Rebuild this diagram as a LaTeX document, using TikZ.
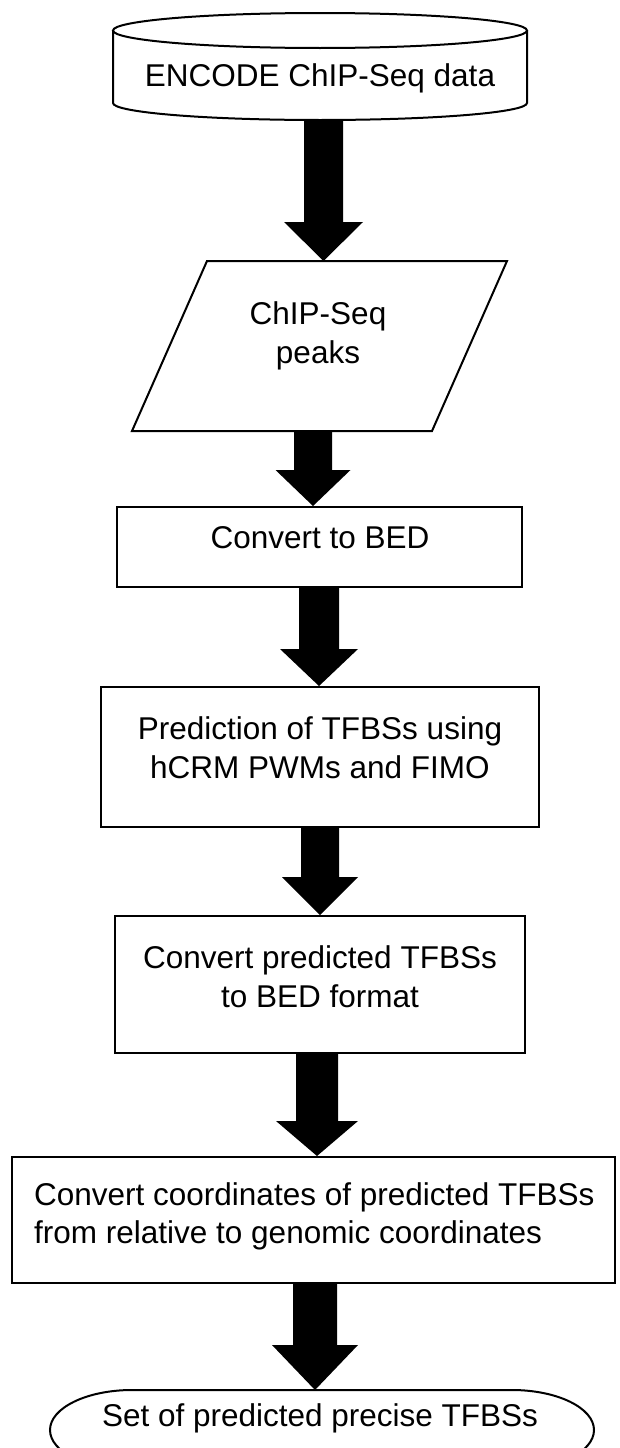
\documentclass[tikz,border=0pt]{standalone}
\usepackage{fontspec}
\setmainfont{Liberation Sans}
\usetikzlibrary{calc}
\tikzset{
  outline/.style={draw=black, line width=2pt},
  hold/.style={inner sep=0pt, outer sep=0pt, draw=none},
  lbl/.style={font=\fontsize{31.5}{38.5}\selectfont, align=center, inner sep=0pt, text=black},
  arrowfill/.style={fill=black},
}
% #1 from, #2 to, #3 x centre, #4 half shaft, #5 half head, #6 head length
\newcommand\blockarrow[6]{%
  \fill[arrowfill] let \p1=(#1), \p2=(#2), \p3=(#3,0) in
    (\x3-#4pt,\y1) -- (\x3+#4pt,\y1) -- (\x3+#4pt,\y2+#6pt) -- (\x3+#5pt,\y2+#6pt)
    -- (\x3,\y2) -- (\x3-#5pt,\y2+#6pt) -- (\x3-#4pt,\y2+#6pt) -- cycle;}
\begin{document}
\begin{tikzpicture}[x=1pt,y=-1pt]
\clip (0,0) rectangle (619,1448);
\fill[white] (0,0) rectangle (619,1448);

% cylinder
\node[hold, minimum width=414pt, minimum height=72.5pt] (cyl) at (320,66.75) {};
\draw[outline] (cyl.north west) -- (cyl.south west)
  arc[start angle=180, end angle=360, x radius=207pt, y radius=17pt] -- (cyl.north east);
\draw[outline] (cyl.north) ellipse[x radius=207pt, y radius=17.5pt];
\node[lbl] (cyltext) at (320,78) {ENCODE ChIP-Seq data};
\coordinate (cylb) at ($(cyl.south)+(0,17)$);

% parallelogram
\node[hold, minimum width=300pt, minimum height=170pt] (pk) at (319.5,346) {};
\draw[outline] ($(pk.south west)+(-37.5,0)$) -- ($(pk.south east)+(-37.5,0)$)
  -- ($(pk.north east)+(37.5,0)$) -- ($(pk.north west)+(37.5,0)$) -- cycle;
\node[lbl] (pktext) at (318,336) {ChIP-Seq\\peaks};

% boxes
\node[outline, inner sep=0pt, minimum width=405pt, minimum height=80pt] (bed) at (319.5,547) {};
\node[lbl] (bedtext) at (320,538) {Convert to BED};

\node[outline, inner sep=0pt, minimum width=438pt, minimum height=140pt] (pred) at (320,757) {};
\node[lbl] (predtext) at (320,747.5) {Prediction of TFBSs using\\hCRM PWMs and FIMO};

\node[outline, inner sep=0pt, minimum width=410pt, minimum height=137pt] (conv) at (320,984.5) {};
\node[lbl] (convtext) at (320,976.5) {Convert predicted TFBSs\\to BED format};

\node[outline, inner sep=0pt, minimum width=603pt, minimum height=126pt] (coord) at (313.5,1220) {};
\node[lbl, align=left, anchor=west] (coordtext) at (34,1216.5) {Convert coordinates of predicted TFBSs\\from relative to genomic coordinates};

% terminator
\node[hold, minimum width=544pt, minimum height=80pt] (term) at (322,1430) {};
\draw[outline] ($(term.north west)+(82,0)$) -- ($(term.north east)+(-82,0)$)
  arc[start angle=90, end angle=0, x radius=82pt, y radius=40pt]
  arc[start angle=0, end angle=-90, x radius=82pt, y radius=40pt]
  -- ($(term.south west)+(82,0)$)
  arc[start angle=270, end angle=180, x radius=82pt, y radius=40pt]
  arc[start angle=180, end angle=90, x radius=82pt, y radius=40pt];
\node[lbl] (termtext) at (320,1418) {Set of predicted precise TFBSs};

% block arrows
\blockarrow{cylb}{pk.north}{323.5}{19.5}{39.5}{39}
\blockarrow{pk.south}{bed.north}{313}{19}{37.5}{36}
\blockarrow{bed.south}{pred.north}{319}{20}{39}{37}
\blockarrow{pred.south}{conv.north}{320}{19}{38}{38}
\blockarrow{conv.south}{coord.north}{317}{21}{41}{35}
\blockarrow{coord.south}{term.north}{315}{22}{43}{45}
\end{tikzpicture}
\end{document}
